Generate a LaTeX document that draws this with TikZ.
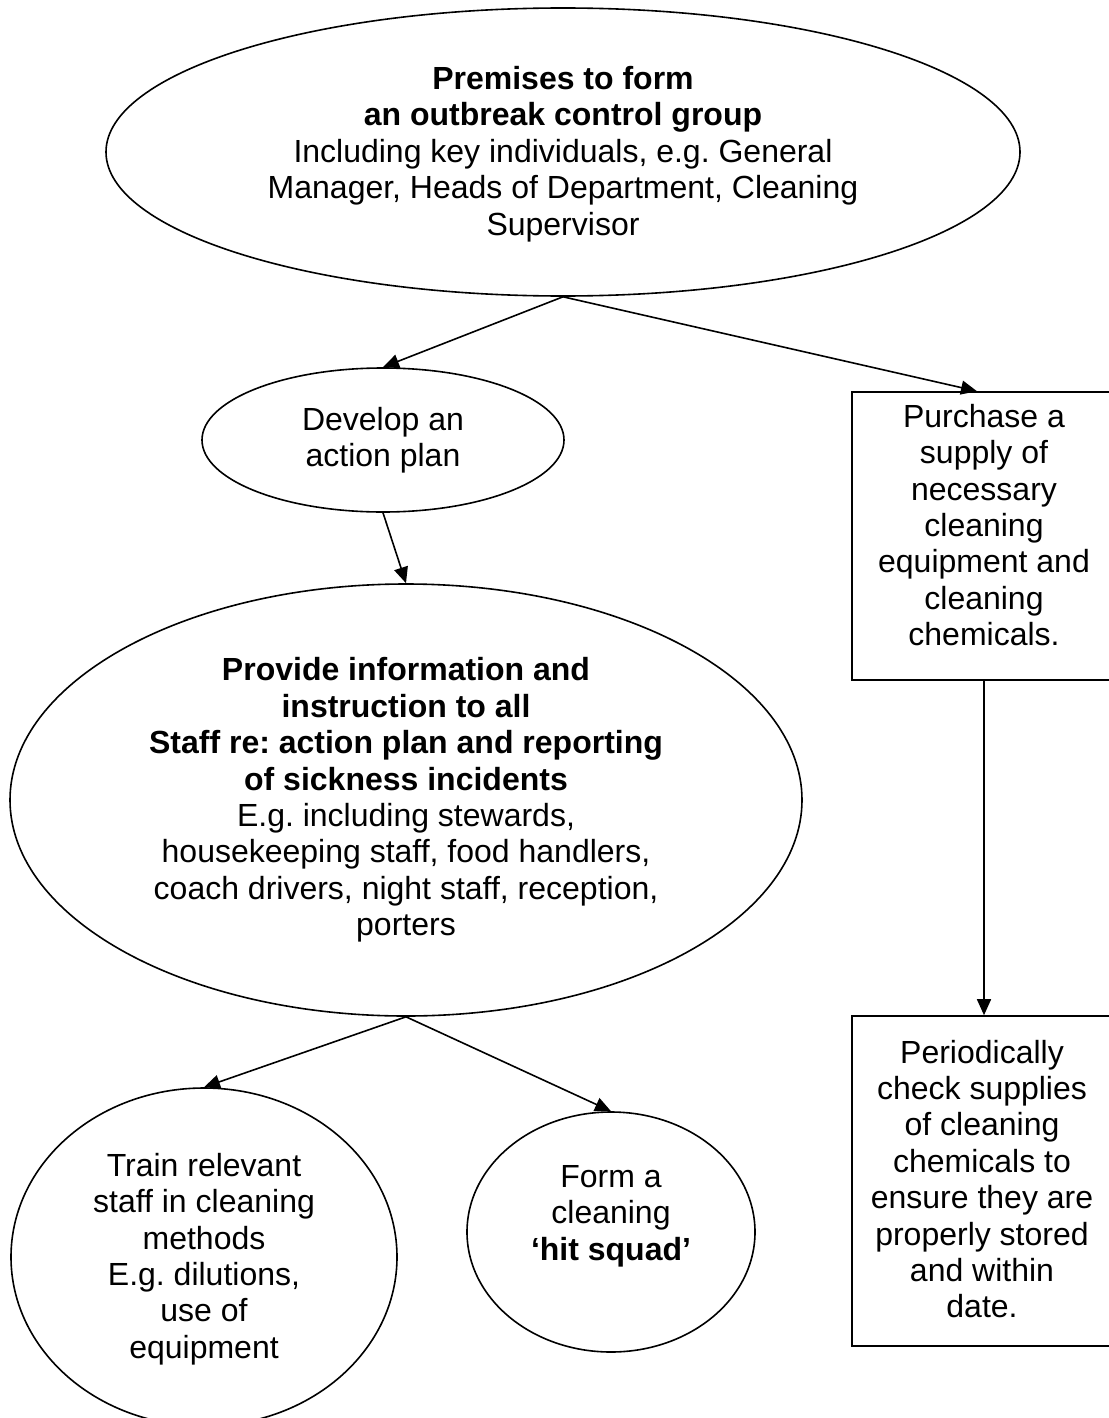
\documentclass[tikz,border=0pt]{standalone}
\usepackage{fontspec}
\setmainfont{Liberation Sans}
\usetikzlibrary{arrows.meta,shapes.geometric}
\frenchspacing
\begin{document}
\begin{tikzpicture}[x=1pt,y=-1pt,
  every node/.style={inner sep=0pt},
  shapeline/.style={draw=black,line width=1.6pt},
  oval/.style={shapeline,ellipse},
  boxnode/.style={shapeline,rectangle},
  txt/.style={align=center,font=\fontsize{32}{36.4}\selectfont},
  conn/.style={draw=black,line width=1.6pt,-{Triangle[length=16pt,width=14pt]}}
]
\useasboundingbox (0,0) rectangle (1108,1418);

% shapes
\node[oval,minimum width=914pt,minimum height=288pt] (top) at (563,152) {};
\node[oval,minimum width=362pt,minimum height=144pt] (develop) at (383,440) {};
\node[oval,minimum width=792pt,minimum height=432pt] (provide) at (406,800) {};
\node[oval,minimum width=386pt,minimum height=338pt] (train) at (204,1257) {};
\node[oval,minimum width=288pt,minimum height=240pt] (hit) at (611,1232) {};
\node[boxnode,minimum width=264pt,minimum height=288pt] (purchase) at (984,536) {};
\node[boxnode,minimum width=264pt,minimum height=330pt] (periodic) at (984,1181) {};

% texts
\node[txt] (toptext) at (563,154) {\textbf{Premises to form}\\\textbf{an outbreak control group}\\Including key individuals, e.g. General\\Manager, Heads of Department, Cleaning\\Supervisor};
\node[txt] (developtext) at (383,440) {Develop an\\action plan};
\node[txt] (providetext) at (406,800) {\textbf{Provide information and}\\\textbf{instruction to all}\\\textbf{Staff re: action plan and reporting}\\\textbf{of sickness incidents}\\E.g. including stewards,\\housekeeping staff, food handlers,\\coach drivers, night staff, reception,\\porters};
\node[txt] (traintext) at (204,1259) {Train relevant\\staff in cleaning\\methods\\E.g. dilutions,\\use of\\equipment};
\node[txt] (hittext) at (611,1216) {Form a\\cleaning\\\textbf{‘hit squad’}};
\node[txt] (purchasetext) at (984,525) {Purchase a\\supply of\\necessary\\cleaning\\equipment and\\cleaning\\chemicals.};
\node[txt] (periodictext) at (982,1179) {Periodically\\check supplies\\of cleaning\\chemicals to\\ensure they are\\properly stored\\and within\\date.};

% connectors
\draw[conn] (top.south) -- (develop.north);
\draw[conn] (top.south) -- ([xshift=-7pt]purchase.north);
\draw[conn] (develop.south) -- (provide.north);
\draw[conn] (provide.south) -- (train.north);
\draw[conn] (provide.south) -- (hit.north);
\draw[conn] (purchase.south) -- (periodic.north);
\end{tikzpicture}
\end{document}
